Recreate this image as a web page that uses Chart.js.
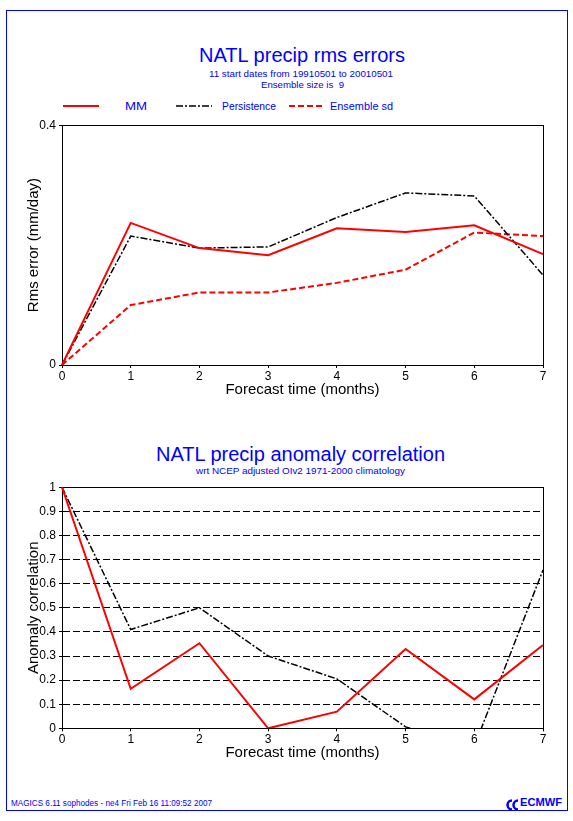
<!DOCTYPE html>
<html>
<head>
<meta charset="utf-8">
<script src="https://cdn.jsdelivr.net/npm/chart.js@4.4.1/dist/chart.umd.min.js"></script>
<style>
  body { margin: 0; background: #fff; }
  #page { position: relative; width: 573px; height: 821px; overflow: hidden; font-family: "Liberation Sans", Arial, sans-serif; }
  #frame { position: absolute; left: 6px; top: 10px; width: 562px; height: 801px; box-sizing: border-box; border: 1px solid #0000ff; }
  .txt { position: absolute; white-space: pre; line-height: 1; color: #0000ff; transform-origin: 0 0; }
  canvas { position: absolute; left: 0; }
  #rmsChart { top: 115px; }
  #accChart { top: 475px; }
  #overlay { position: absolute; left: 0; top: 0; }
</style>
</head>
<body>
<div id="page">
  <div id="frame"></div>

  <div class="txt" data-w="206" style="left:199px;top:44.8px;font-size:20px">NATL precip rms errors</div>
  <div class="txt" data-w="184" style="left:209px;top:69.5px;font-size:9px">11 start dates from 19910501 to 20010501</div>
  <div class="txt" data-w="83" style="left:261px;top:81px;font-size:9px">Ensemble size is  9</div>

  <div class="txt" data-w="22" style="left:125px;top:101.2px;font-size:11.5px">MM</div>
  <div class="txt" data-w="54" style="left:222px;top:101.2px;font-size:11.5px">Persistence</div>
  <div class="txt" data-w="63" style="left:330px;top:101.2px;font-size:11.5px">Ensemble sd</div>

  <div class="txt" data-w="289" style="left:156px;top:444px;font-size:20px">NATL precip anomaly correlation</div>
  <div class="txt" data-w="209" style="left:196px;top:466.5px;font-size:9px">wrt NCEP adjusted OIv2 1971-2000 climatology</div>

  <div class="txt" data-w="201" style="left:11px;top:798.8px;font-size:8.5px">MAGICS 6.11 sophodes - ne4 Fri Feb 16 11:09:52 2007</div>
  <div class="txt" data-w="42" style="left:520px;top:797.5px;font-size:10px;font-weight:bold">ECMWF</div>

  <svg id="overlay" width="573" height="821">
    <!-- legend samples -->
    <line x1="63" y1="106" x2="99" y2="106" stroke="#ff0000" stroke-width="2"/>
    <line x1="176" y1="106" x2="212" y2="106" stroke="#000" stroke-width="1.5" stroke-dasharray="7 2 2 2"/>
    <line x1="289" y1="106" x2="324" y2="106" stroke="#ff0000" stroke-width="2" stroke-dasharray="6 3"/>
    <!-- ecmwf logo mark -->
    <path d="M512 800.5 a4 4 0 1 0 0 9" fill="none" stroke="#0000ff" stroke-width="2.5"/>
    <path d="M518 800.5 a4 4 0 1 0 0 9" fill="none" stroke="#0000ff" stroke-width="2.5"/>
  </svg>

  <canvas id="rmsChart" width="573" height="285"></canvas>
  <canvas id="accChart" width="573" height="290"></canvas>
</div>

<script>
// forecast months on the x axis
const months = ['0', '1', '2', '3', '4', '5', '6', '7'];

// rms errors (mm/day)
const rmsMM          = [0, 0.237, 0.195, 0.183, 0.228, 0.222, 0.233, 0.185];
const rmsPersistence = [0, 0.215, 0.195, 0.197, 0.246, 0.287, 0.282, 0.150];
const rmsEnsembleSd  = [0, 0.100, 0.121, 0.121, 0.137, 0.159, 0.221, 0.215];
const rmsTicks = [0, 0.4];

// anomaly correlation
const accMM          = [1, 0.164, 0.353, 0.0, 0.069, 0.329, 0.120, 0.346];
const accPersistence = [1, 0.41, 0.50, 0.30, 0.205, 0.006, -0.075, 0.657];
const accTicks = [0, 0.1, 0.2, 0.3, 0.4, 0.5, 0.6, 0.7, 0.8, 0.9, 1];

const FONT = '"Liberation Sans", Arial, sans-serif';

// stretch the bitmap-looking texts to the widths of the original
document.querySelectorAll('.txt').forEach(el => {
    const w = el.getBoundingClientRect().width;
    el.style.transform = 'scaleX(' + (parseFloat(el.dataset.w) / w) + ')';
});

// box round the plot area
const frame = {
    id: 'frame',
    beforeDatasetsDraw(chart) {
        const { ctx, chartArea: a } = chart;
        const l = Math.round(a.left - 0.5) + 0.5;
        const t = Math.round(a.top - 0.5) + 0.5;
        const r = Math.round(a.right - 0.5) + 0.5;
        const b = Math.round(a.bottom - 0.5) + 0.5;
        ctx.save();
        ctx.strokeStyle = '#000';
        ctx.lineWidth = 1;
        ctx.setLineDash([]);
        ctx.strokeRect(l, t, r - l, b - t);
        ctx.restore();
    }
};

function makeChart(id, datasets, yTicks, topPad, xAxisHeight, xTitleBottom, yTitle, dashedGrid) {
    return new Chart(document.getElementById(id), {
        type: 'line',
        data: { labels: months, datasets: datasets },
        options: {
            responsive: false,
            animation: false,
            layout: { padding: { top: topPad, right: 30, left: 0, bottom: 0 } },
            elements: { point: { radius: 0 }, line: { tension: 0 } },
            plugins: { legend: { display: false }, tooltip: { enabled: false } },
            scales: {
                x: {
                    offset: false,
                    grid: { drawOnChartArea: false, tickLength: 3, color: '#000' },
                    border: { color: '#000' },
                    ticks: { color: '#000', font: { family: FONT, size: 12 }, padding: 1, maxRotation: 0, autoSkip: false },
                    title: { display: true, text: 'Forecast time (months)', color: '#000',
                             font: { family: FONT, size: 15 }, padding: { top: 0, bottom: xTitleBottom } },
                    afterFit: s => { s.height = xAxisHeight; }
                },
                y: {
                    min: 0,
                    max: yTicks[yTicks.length - 1],
                    afterBuildTicks: axis => { axis.ticks = yTicks.map(v => ({ value: v })); },
                    grid: { drawOnChartArea: dashedGrid, tickLength: 3, color: '#000', lineWidth: 1 },
                    border: { color: '#000', dash: dashedGrid ? [7, 3] : [] },
                    ticks: { color: '#000', font: { family: FONT, size: 12 }, padding: 3,
                             callback: v => String(Math.round(v * 10) / 10) },
                    title: { display: true, text: yTitle, color: '#000',
                             font: { family: FONT, size: 15 }, padding: { top: 25, bottom: 0 } },
                    afterFit: s => { s.width = 62; }
                }
            }
        },
        plugins: [frame]
    });
}

makeChart('rmsChart', [
    { label: 'MM', data: rmsMM, borderColor: '#ff0000', borderWidth: 2 },
    { label: 'Persistence', data: rmsPersistence, borderColor: '#000000', borderWidth: 1.5, borderDash: [7, 2, 2, 2] },
    { label: 'Ensemble sd', data: rmsEnsembleSd, borderColor: '#ff0000', borderWidth: 2, borderDash: [6, 3] }
], rmsTicks, 10, 35, 1, 'Rms error (mm/day)', false);

makeChart('accChart', [
    { label: 'MM', data: accMM, borderColor: '#ff0000', borderWidth: 2 },
    { label: 'Persistence', data: accPersistence, borderColor: '#000000', borderWidth: 1.5, borderDash: [7, 2, 2, 2] }
], accTicks, 12.3, 36.7, 3, 'Anomaly correlation', true);
</script>
</body>
</html>
